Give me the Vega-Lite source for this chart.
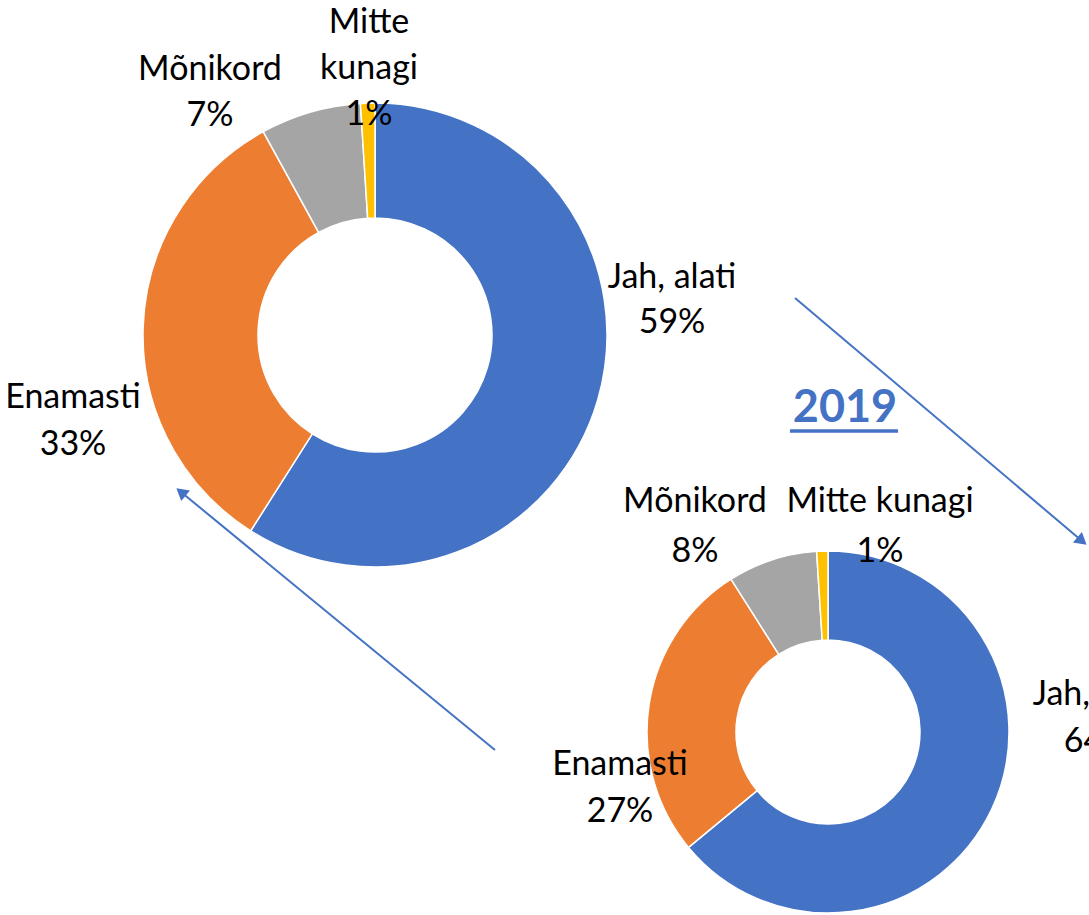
{
  "$schema": "https://vega.github.io/schema/vega-lite/v6.json",
  "width": 1089,
  "height": 915,
  "padding": 0,
  "autosize": {"type": "none"},
  "background": "white",
  "config": {"view": {"stroke": null}, "text": {"font": "Lato"}},
  "datasets": {
    "shares": [
      {"year": "2018", "category": "Jah, alati", "value": 59, "ord": 1, "label": "Jah, alati\n59%"},
      {"year": "2018", "category": "Enamasti", "value": 33, "ord": 2, "label": "Enamasti\n33%"},
      {"year": "2018", "category": "Mõnikord", "value": 7, "ord": 3, "label": "Mõnikord\n7%"},
      {"year": "2018", "category": "Mitte kunagi", "value": 1, "ord": 4, "label": "Mitte\nkunagi\n1%"},
      {"year": "2019", "category": "Jah, alati", "value": 64, "ord": 1, "label": "Jah, alati\n64%"},
      {"year": "2019", "category": "Enamasti", "value": 27, "ord": 2, "label": "Enamasti\n27%"},
      {"year": "2019", "category": "Mõnikord", "value": 8, "ord": 3, "label": "Mõnikord\n8%"},
      {"year": "2019", "category": "Mitte kunagi", "value": 1, "ord": 4, "label": "Mitte kunagi\n1%"}
    ],
    "arrows": [
      {"from": "2018", "to": "2019"},
      {"from": "2019", "to": "2018"}
    ]
  },
  "layer": [
    {
      "data": {"name": "shares"},
      "transform": [{"filter": "datum.year == '2018'"}],
      "mark": {"type": "arc", "outerRadius": 232, "innerRadius": 117, "stroke": "white", "strokeWidth": 1.5},
      "encoding": {
        "x": {"field": "year", "type": "nominal", "scale": {"type": "point", "domain": ["2018", "2019"], "range": [375, 828], "padding": 0}, "axis": null},
        "y": {"field": "year", "type": "nominal", "scale": {"type": "point", "domain": ["2018", "2019"], "range": [335, 732], "padding": 0}, "axis": null},
        "theta": {"field": "value", "type": "quantitative", "stack": true, "scale": {"domain": [0, 100]}},
        "order": {"field": "ord", "type": "quantitative"},
        "color": {"field": "category", "type": "nominal", "scale": {"domain": ["Jah, alati", "Enamasti", "Mõnikord", "Mitte kunagi"], "range": ["#4472C4", "#ED7D31", "#A5A5A5", "#FFC000"]}, "legend": null}
      }
    },
    {
      "data": {"name": "shares"},
      "transform": [{"filter": "datum.year == '2019'"}],
      "mark": {"type": "arc", "outerRadius": 181, "innerRadius": 92, "stroke": "white", "strokeWidth": 1.5},
      "encoding": {
        "x": {"field": "year", "type": "nominal", "scale": {"type": "point", "domain": ["2018", "2019"], "range": [375, 828], "padding": 0}, "axis": null},
        "y": {"field": "year", "type": "nominal", "scale": {"type": "point", "domain": ["2018", "2019"], "range": [335, 732], "padding": 0}, "axis": null},
        "theta": {"field": "value", "type": "quantitative", "stack": true, "scale": {"domain": [0, 100]}},
        "order": {"field": "ord", "type": "quantitative"},
        "color": {"field": "category", "type": "nominal", "scale": {"domain": ["Jah, alati", "Enamasti", "Mõnikord", "Mitte kunagi"], "range": ["#4472C4", "#ED7D31", "#A5A5A5", "#FFC000"]}, "legend": null}
      }
    },
    {
      "data": {"name": "shares"},
      "transform": [{"filter": "datum.year == '2018' && datum.category == 'Mitte kunagi'"}],
      "mark": {"type": "text", "font": "Lato", "fontSize": 34, "lineHeight": 46, "lineBreak": "\n", "align": "center", "baseline": "alphabetic", "color": "black", "dx": -6, "dy": -302},
      "encoding": {"x": {"field": "year", "type": "nominal"}, "y": {"field": "year", "type": "nominal"}, "text": {"field": "label"}}
    },
    {
      "data": {"name": "shares"},
      "transform": [{"filter": "datum.year == '2018' && datum.category == 'Mõnikord'"}],
      "mark": {"type": "text", "font": "Lato", "fontSize": 34, "lineHeight": 46, "lineBreak": "\n", "align": "center", "baseline": "alphabetic", "color": "black", "dx": -165, "dy": -255},
      "encoding": {"x": {"field": "year", "type": "nominal"}, "y": {"field": "year", "type": "nominal"}, "text": {"field": "label"}}
    },
    {
      "data": {"name": "shares"},
      "transform": [{"filter": "datum.year == '2018' && datum.category == 'Jah, alati'"}],
      "mark": {"type": "text", "font": "Lato", "fontSize": 34, "lineHeight": 45, "lineBreak": "\n", "align": "center", "baseline": "alphabetic", "color": "black", "dx": 297, "dy": -47},
      "encoding": {"x": {"field": "year", "type": "nominal"}, "y": {"field": "year", "type": "nominal"}, "text": {"field": "label"}}
    },
    {
      "data": {"name": "shares"},
      "transform": [{"filter": "datum.year == '2018' && datum.category == 'Enamasti'"}],
      "mark": {"type": "text", "font": "Lato", "fontSize": 34, "lineHeight": 47, "lineBreak": "\n", "align": "center", "baseline": "alphabetic", "color": "black", "dx": -302, "dy": 73},
      "encoding": {"x": {"field": "year", "type": "nominal"}, "y": {"field": "year", "type": "nominal"}, "text": {"field": "label"}}
    },
    {
      "data": {"name": "shares"},
      "transform": [{"filter": "datum.year == '2019' && datum.category == 'Mõnikord'"}],
      "mark": {"type": "text", "font": "Lato", "fontSize": 34, "lineHeight": 50, "lineBreak": "\n", "align": "center", "baseline": "alphabetic", "color": "black", "dx": -133, "dy": -220},
      "encoding": {"x": {"field": "year", "type": "nominal"}, "y": {"field": "year", "type": "nominal"}, "text": {"field": "label"}}
    },
    {
      "data": {"name": "shares"},
      "transform": [{"filter": "datum.year == '2019' && datum.category == 'Mitte kunagi'"}],
      "mark": {"type": "text", "font": "Lato", "fontSize": 34, "lineHeight": 50, "lineBreak": "\n", "align": "center", "baseline": "alphabetic", "color": "black", "dx": 52, "dy": -220},
      "encoding": {"x": {"field": "year", "type": "nominal"}, "y": {"field": "year", "type": "nominal"}, "text": {"field": "label"}}
    },
    {
      "data": {"name": "shares"},
      "transform": [{"filter": "datum.year == '2019' && datum.category == 'Enamasti'"}],
      "mark": {"type": "text", "font": "Lato", "fontSize": 34, "lineHeight": 47, "lineBreak": "\n", "align": "center", "baseline": "alphabetic", "color": "black", "dx": -208, "dy": 43},
      "encoding": {"x": {"field": "year", "type": "nominal"}, "y": {"field": "year", "type": "nominal"}, "text": {"field": "label"}}
    },
    {
      "data": {"name": "shares"},
      "transform": [{"filter": "datum.year == '2019' && datum.category == 'Jah, alati'"}],
      "mark": {"type": "text", "font": "Lato", "fontSize": 34, "lineHeight": 47, "lineBreak": "\n", "align": "center", "baseline": "alphabetic", "color": "black", "dx": 269, "dy": -27},
      "encoding": {"x": {"field": "year", "type": "nominal"}, "y": {"field": "year", "type": "nominal"}, "text": {"field": "label"}}
    },
    {
      "data": {"name": "shares"},
      "transform": [{"filter": "datum.year == '2019' && datum.ord == 1"}],
      "mark": {"type": "text", "font": "Lato", "fontSize": 45, "fontWeight": "bold", "align": "center", "baseline": "alphabetic", "color": "#4472C4", "dx": 17, "dy": -310},
      "encoding": {"x": {"field": "year", "type": "nominal"}, "y": {"field": "year", "type": "nominal"}, "text": {"field": "year"}}
    },
    {
      "data": {"name": "shares"},
      "transform": [{"filter": "datum.year == '2019' && datum.ord == 1"}],
      "mark": {"type": "rule", "color": "#4472C4", "strokeWidth": 3.3, "xOffset": -38, "x2Offset": 70, "yOffset": -301},
      "encoding": {"x": {"field": "year", "type": "nominal"}, "x2": {"field": "year"}, "y": {"field": "year", "type": "nominal"}}
    },
    {
      "data": {"name": "arrows"},
      "transform": [{"filter": "datum.from == '2018'"}],
      "mark": {"type": "rule", "color": "#4472C4", "strokeWidth": 2, "xOffset": 420, "yOffset": -37, "x2Offset": 254, "y2Offset": -191},
      "encoding": {"x": {"field": "from", "type": "nominal"}, "y": {"field": "from", "type": "nominal"}, "x2": {"field": "to"}, "y2": {"field": "to"}}
    },
    {
      "data": {"name": "arrows"},
      "transform": [{"filter": "datum.from == '2018'"}],
      "mark": {"type": "point", "shape": "triangle-right", "filled": true, "opacity": 1, "size": 190, "angle": 40.3, "color": "#4472C4", "xOffset": 254, "yOffset": -191},
      "encoding": {"x": {"field": "to", "type": "nominal"}, "y": {"field": "to", "type": "nominal"}}
    },
    {
      "data": {"name": "arrows"},
      "transform": [{"filter": "datum.from == '2019'"}],
      "mark": {"type": "rule", "color": "#4472C4", "strokeWidth": 2, "xOffset": -333, "yOffset": 18, "x2Offset": -194, "y2Offset": 157},
      "encoding": {"x": {"field": "from", "type": "nominal"}, "y": {"field": "from", "type": "nominal"}, "x2": {"field": "to"}, "y2": {"field": "to"}}
    },
    {
      "data": {"name": "arrows"},
      "transform": [{"filter": "datum.from == '2019'"}],
      "mark": {"type": "point", "shape": "triangle-right", "filled": true, "opacity": 1, "size": 190, "angle": 219.4, "color": "#4472C4", "xOffset": -194, "yOffset": 157},
      "encoding": {"x": {"field": "to", "type": "nominal"}, "y": {"field": "to", "type": "nominal"}}
    }
  ]
}
